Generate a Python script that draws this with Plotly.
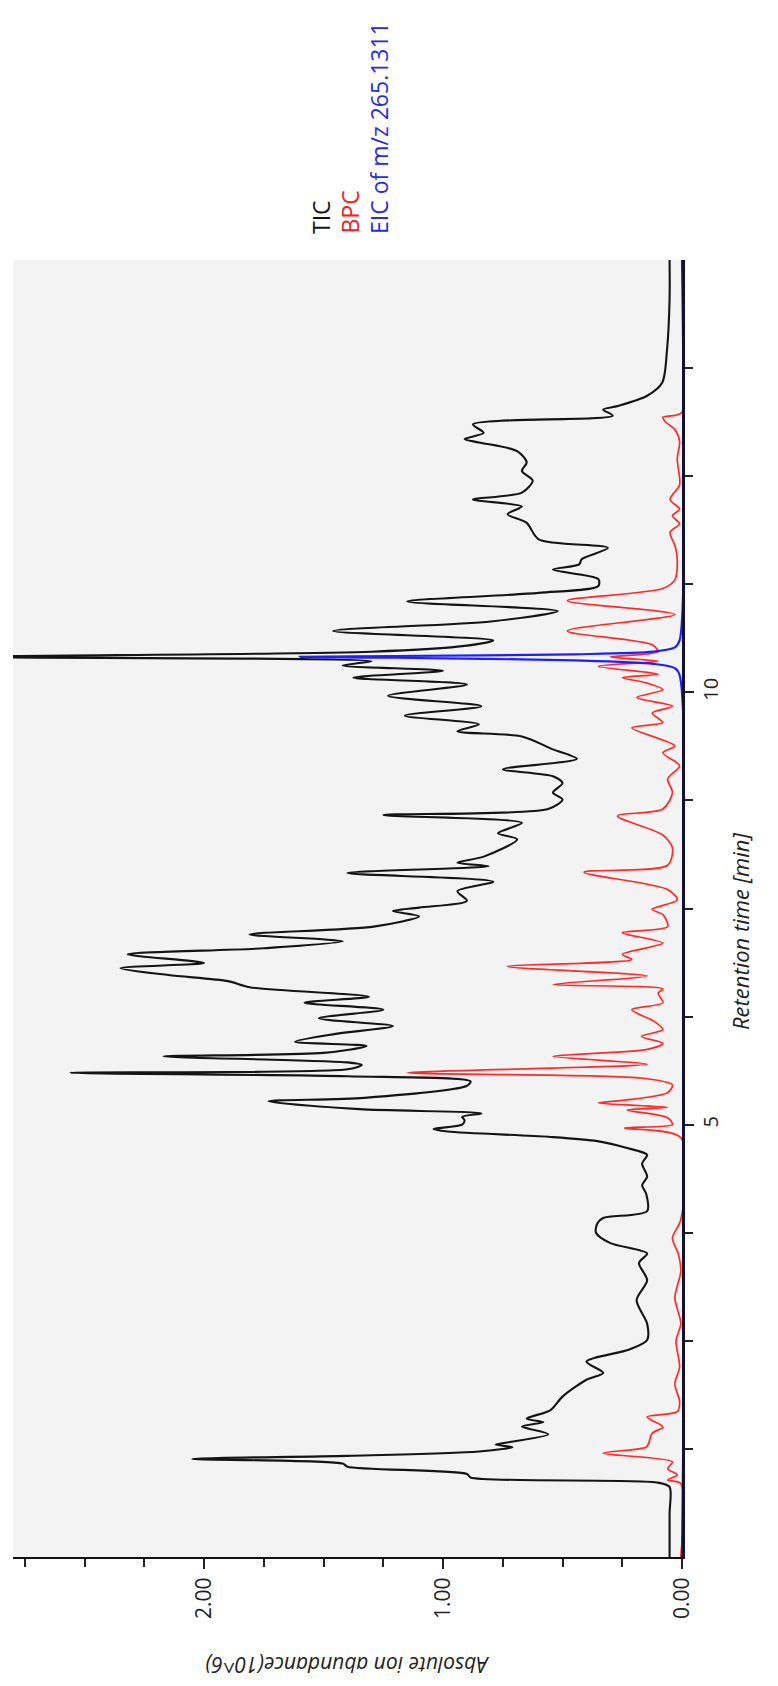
import numpy as np
import plotly.graph_objects as go

# Retention time (min) / absolute abundance (x10^6) for each chromatogram
tic_time = [0.0, 0.5, 0.81, 0.86, 0.92, 0.96, 1.045, 1.08, 1.134, 1.17, 1.22, 1.27, 1.30, 1.33,
            1.42, 1.51, 1.56, 1.60, 1.70, 1.855, 2.05, 2.13, 2.26, 2.40, 2.51, 2.70, 2.97, 3.20,
            3.40, 3.51, 3.63, 3.75, 3.86, 3.92, 4.0, 4.2, 4.30, 4.40, 4.55, 4.65, 4.73, 4.81,
            4.86, 4.92, 4.95, 5.0, 5.05, 5.09, 5.13, 5.18, 5.27, 5.31, 5.45, 5.50, 5.56, 5.60,
            5.64, 5.69, 5.72, 5.79, 5.83, 5.91, 5.96, 6.05, 6.14, 6.23, 6.33, 6.41, 6.48, 6.59,
            6.66, 6.73, 6.81, 6.87, 6.97, 7.04, 7.12, 7.20, 7.29, 7.41, 7.47, 7.51, 7.59, 7.70,
            7.81, 7.91, 7.99, 8.03, 8.10, 8.30, 8.37, 8.49, 8.58, 8.65, 8.76, 8.84, 8.95, 9.03,
            9.11, 9.23, 9.34, 9.49, 9.55, 9.63, 9.73, 9.84, 9.96, 10.09, 10.17, 10.25, 10.31,
            10.36, 10.41, 10.47, 10.54, 10.60, 10.71, 10.82, 10.94, 11.05, 11.15, 11.23, 11.31,
            11.42, 11.48, 11.54, 11.67, 11.77, 11.96, 12.06, 12.15, 12.23, 12.31, 12.45, 12.56,
            12.66, 12.79, 12.89, 12.93, 13.0, 13.10, 13.20, 13.27, 13.31, 13.43, 13.58, 13.97,
            14.55, 15.0]
tic_abund = [0.052, 0.052, 0.052, 0.10, 0.885, 0.90, 1.40, 1.42, 2.05, 1.40, 0.85, 0.71, 0.78, 0.72,
             0.56, 0.67, 0.58, 0.65, 0.55, 0.50, 0.40, 0.33, 0.40, 0.22, 0.146, 0.146, 0.19, 0.146,
             0.18, 0.146, 0.30, 0.36, 0.354, 0.33, 0.146, 0.15, 0.167, 0.146, 0.167, 0.146, 0.23, 0.354,
             0.56, 0.98, 1.04, 0.92, 0.91, 0.92, 0.84, 1.35, 1.73, 1.33, 0.90, 0.885, 1.40, 2.56,
             1.40, 1.34, 1.40, 2.17, 1.50, 1.32, 1.62, 1.45, 1.21, 1.52, 1.25, 1.58, 1.31, 1.81,
             1.90, 2.15, 2.35, 2.0, 2.32, 1.75, 1.42, 1.81, 1.29, 1.10, 1.21, 1.10, 0.90, 0.94,
             0.79, 1.40, 0.81, 0.94, 0.83, 0.69, 0.77, 0.67, 1.25, 0.56, 0.50, 0.54, 0.50, 0.54,
             0.75, 0.44, 0.54, 0.67, 0.94, 0.85, 1.16, 0.84, 1.23, 0.90, 1.375, 1.0, 1.42,
             1.30, 2.95, 1.30, 0.90, 0.79, 1.46, 0.80, 0.52, 1.15, 0.60, 0.35, 0.35,
             0.54, 0.43, 0.42, 0.31, 0.60, 0.65, 0.73, 0.67, 0.875, 0.67, 0.625, 0.67,
             0.65, 0.69, 0.85, 0.91, 0.83, 0.875, 0.29, 0.33, 0.27, 0.146, 0.083, 0.0625,
             0.052, 0.052]

bpc_time = [0.0, 0.85, 0.89, 0.95, 1.02, 1.1, 1.2, 1.27, 1.31, 1.43, 1.50, 1.53, 1.62, 1.68, 1.8,
            2.0, 2.2, 2.5, 2.7, 3.0, 3.3, 3.5, 3.69, 3.9, 4.85, 4.96, 5.0, 5.08, 5.17, 5.20,
            5.25, 5.28, 5.37, 5.46, 5.54, 5.60, 5.70, 5.79, 5.87, 5.94, 6.02, 6.10, 6.20, 6.33,
            6.41, 6.52, 6.57, 6.62, 6.72, 6.83, 6.91, 6.97, 7.10, 7.22, 7.29, 7.43, 7.49, 7.6,
            7.72, 7.92, 8.0, 8.2, 8.35, 8.57, 8.65, 8.84, 9.0, 9.15, 9.30, 9.38, 9.59, 9.65,
            9.76, 9.84, 9.94, 10.03, 10.11, 10.17, 10.21, 10.30, 10.36, 10.41, 10.47, 10.55,
            10.71, 10.90, 11.06, 11.2, 11.3, 11.54, 11.7, 11.85, 11.95, 12.04, 12.12, 12.23,
            12.4, 12.7, 12.9, 13.04, 13.13, 13.18, 13.24, 15.0]
bpc_abund = [0.005, 0.005, 0.06, 0.02, 0.06, 0.04, 0.33, 0.15, 0.14, 0.125, 0.08, 0.09, 0.146, 0.02, 0.01,
             0.03, 0.01, 0.025, 0.005, 0.03, 0.005, 0.015, 0.04, 0.005, 0.005, 0.24, 0.04, 0.06, 0.23, 0.06,
             0.35, 0.25, 0.06, 0.04, 0.17, 1.15, 0.146, 0.54, 0.146, 0.08, 0.17, 0.08, 0.12, 0.21,
             0.08, 0.10, 0.08, 0.54, 0.146, 0.73, 0.21, 0.25, 0.08, 0.25, 0.06, 0.08, 0.125, 0.02,
             0.06, 0.41, 0.06, 0.04, 0.08, 0.27, 0.08, 0.04, 0.06, 0.01, 0.08, 0.03, 0.21, 0.08,
             0.125, 0.04, 0.19, 0.08, 0.15, 0.25, 0.10, 0.35, 0.10, 0.30, 0.10, 0.125,
             0.48, 0.03, 0.48, 0.08, 0.03, 0.02, 0.03, 0.05, 0.01, 0.04, 0.01, 0.05,
             0.01, 0.02, 0.01, 0.03, 0.07, 0.08, 0.0, 0.0]

eic_time = [0.0, 10.20, 10.28, 10.33, 10.37, 10.40, 10.41, 10.42, 10.44, 10.47, 10.52, 10.60, 15.0]
eic_abund = [0.0, 0.01, 0.03, 0.12, 0.45, 1.2, 1.60, 1.2, 0.45, 0.12, 0.03, 0.01, 0.0]

abund_ticks = [0, 1, 2]
abund_tick_labels = ["0.00", "1.00", "2.00"]
time_ticks = [5, 10]
time_tick_labels = ["5", "10"]

series = [
    ("TIC", tic_time, tic_abund, "#141414", 2.1),
    ("BPC", bpc_time, bpc_abund, "#ff2a2a", 1.7),
    ("EIC of m/z 265.1311", eic_time, eic_abund, "#1e1eff", 2.2),
]
label_colors = {"TIC": "#141414", "BPC": "#e8242a", "EIC of m/z 265.1311": "#2a2ae0"}

FONT = "Open Sans, Noto Sans, sans-serif"

fig = go.Figure()
for name, t, a, color, width in series:
    # abundance runs along x (reversed), retention time runs up the y axis
    fig.add_trace(go.Scatter(
        x=a, y=t, mode="lines", name=name,
        line=dict(color=color, width=width, shape="spline", smoothing=0.8),
        showlegend=False, hoverinfo="skip",
    ))

W, H = 778, 1686
L, R, T, B = 13, 96, 260, 129

fig.update_layout(
    width=W, height=H,
    margin=dict(l=L, r=R, t=T, b=B, pad=0),
    paper_bgcolor="white",
    plot_bgcolor="#f3f3f3",
    font=dict(family=FONT, color="#222222"),
    xaxis=dict(
        range=[2.8, 0], showgrid=False, zeroline=False,
        showline=True, linecolor="#111111", linewidth=2, layer="below traces",
        ticks="outside", ticklen=10, tickwidth=1.5, tickcolor="#222222",
        tickmode="array", tickvals=abund_ticks, ticktext=abund_tick_labels,
        tickangle=-90, tickfont=dict(size=21, family=FONT, color="#222222"),
        minor=dict(tickmode="array", tickvals=list(np.arange(0.25, 2.8, 0.25)),
                   ticks="outside", ticklen=8, tickwidth=1.5, tickcolor="#222222"),
    ),
    yaxis=dict(
        range=[0, 15], side="right", showgrid=False, zeroline=False,
        showline=True, linecolor="#111133", linewidth=2.5, layer="below traces",
        ticks="outside", ticklen=9, tickwidth=1.5, tickcolor="#222222",
        tickmode="array", tickvals=time_ticks, ticktext=time_tick_labels,
        tickangle=-90, tickfont=dict(size=20, family=FONT, color="#222222"),
        minor=dict(tickmode="array", tickvals=list(np.arange(1.25, 15, 1.25)),
                   ticks="outside", ticklen=8, tickwidth=1.5, tickcolor="#222222"),
    ),
)

pw, ph = W - L - R, H - T - B

def px(xpix):
    return (xpix - L) / pw

def py(ypix):
    return (H - B - ypix) / ph

annotations = [
    dict(text="<i>Retention time [min]</i>", x=px(740), y=py(932), xref="paper", yref="paper",
         textangle=-90, showarrow=False, xanchor="center", yanchor="middle",
         font=dict(size=22, family=FONT, color="#222222")),
    dict(text="<i>Absolute ion abundance(10^6)</i>", x=0.5, y=py(1665), xref="paper", yref="paper",
         textangle=180, showarrow=False, xanchor="center", yanchor="middle",
         font=dict(size=21, family=FONT, color="#222222")),
]
for name, xpix in [("TIC", 321), ("BPC", 349), ("EIC of m/z 265.1311", 379)]:
    annotations.append(dict(
        text=name, x=px(xpix), y=py(236), xref="paper", yref="paper",
        textangle=-90, showarrow=False, xanchor="center", yanchor="bottom",
        font=dict(size=23, family=FONT, color=label_colors[name]),
    ))
fig.update_layout(annotations=annotations)

fig.write_html("out.html")
